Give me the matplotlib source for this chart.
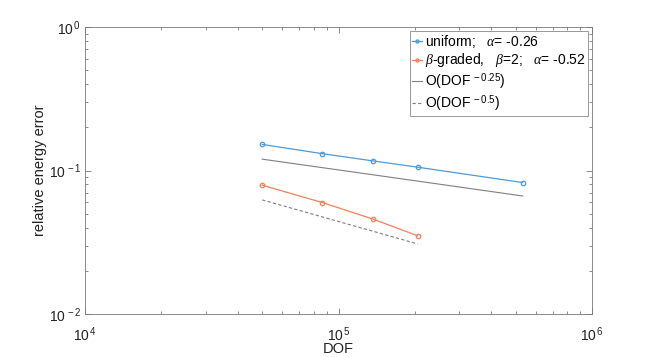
import matplotlib
matplotlib.use("Agg")
import matplotlib.pyplot as plt
from matplotlib.ticker import LogLocator, NullFormatter, FuncFormatter
import numpy as np

plt.rcParams['font.family'] = ['Liberation Sans', 'DejaVu Sans']
plt.rcParams['mathtext.fontset'] = 'custom'
plt.rcParams['mathtext.rm'] = 'Liberation Sans'
plt.rcParams['mathtext.it'] = 'Liberation Serif:italic'

# data
dof_uniform = [5.0e4, 8.63e4, 1.37e5, 2.05e5, 5.33e5]
err_uniform = [0.152, 0.131, 0.1166, 0.1055, 0.0824]
dof_graded = [5.0e4, 8.63e4, 1.37e5, 2.05e5]
err_graded = [0.079, 0.0598, 0.0458, 0.0351]
ref025_y = [0.120, 0.1047, 0.0933, 0.0844, 0.0664]
ref05_y = [0.0624, 0.0475, 0.0377, 0.0308]

labels = [r'uniform;   $\alpha$= -0.26',
          r'$\beta$-graded,   $\beta$=2;   $\alpha$= -0.52',
          r'O(DOF$^{\ -0.25}$)',
          r'O(DOF$^{\ -0.5}$)']

fig = plt.figure(figsize=(6.54, 3.57), dpi=100)
ax = fig.add_axes([85/654, 1 - 314/357, (592 - 85)/654, (314 - 27)/357])

c_blue = '#4f9ad6'
c_orange = '#ee8260'
ax.loglog(dof_uniform, err_uniform, '-o', color=c_blue, lw=0.9, ms=3.2,
          mfc='none', mew=0.9, label=labels[0])
ax.loglog(dof_graded, err_graded, '-o', color=c_orange, lw=0.9, ms=3.2,
          mfc='none', mew=0.9, label=labels[1])
ax.loglog(dof_uniform, ref025_y, '-', color='#808080', lw=0.8, label=labels[2])
ax.loglog(dof_graded, ref05_y, '--', color='#808080', lw=0.8,
          dashes=(3, 2), label=labels[3])

ax.set_xlim(1e4, 1e6)
ax.set_ylim(1e-2, 1e0)
ax.set_xlabel('DOF', fontsize=10.5, color='#222222', labelpad=-1)
ax.set_ylabel('relative energy error', fontsize=10.5, color='#222222')
ax.yaxis.set_label_coords(-0.074, 0.5)

fmt = FuncFormatter(lambda v, p: r'$\mathdefault{10^{\,%d}}$' % int(round(np.log10(v))))
for axis in (ax.xaxis, ax.yaxis):
    axis.set_major_locator(LogLocator(base=10, numticks=10))
    axis.set_major_formatter(fmt)
    axis.set_minor_locator(LogLocator(base=10, subs=range(2, 10), numticks=20))
    axis.set_minor_formatter(NullFormatter())

ax.tick_params(which='both', direction='in', top=True, right=True,
               colors='#777777', labelcolor='#222222', labelsize=10, width=0.6)
ax.tick_params(axis='y', pad=3)
ax.tick_params(axis='x', pad=8)
ax.tick_params(which='major', length=4)
ax.tick_params(which='minor', length=2.5)
for s in ax.spines.values():
    s.set_color('#777777')
    s.set_linewidth(0.6)

leg = ax.legend(loc='upper right', fontsize=10, handlelength=0.75,
                handletextpad=0.2, borderpad=0.15, labelspacing=0.1,
                borderaxespad=0.0, fancybox=False, framealpha=1,
                edgecolor='#888888', bbox_to_anchor=(588/654, 1 - 31/357),
                bbox_transform=fig.transFigure, markerscale=0.7)
leg.get_frame().set_linewidth(0.6)

fig.savefig('out.png', dpi=100)
